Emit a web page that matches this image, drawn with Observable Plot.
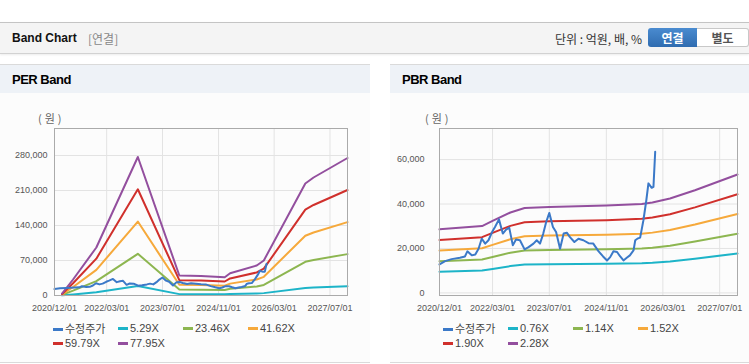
<!DOCTYPE html>
<html><head><meta charset="utf-8">
<script src="https://cdn.jsdelivr.net/npm/d3@7"></script>
<script src="https://cdn.jsdelivr.net/npm/@observablehq/plot@0.6"></script>
<style>
body{margin:0;width:749px;height:364px;position:relative;background:#fff;font-family:"Liberation Sans",Arial,"Noto Sans CJK KR",sans-serif;overflow:hidden}
#hdr{position:absolute;left:0;top:22px;width:749px;height:30px;background:#f4f4f4;border-top:1px solid #c4c4c4;border-bottom:1px solid #d2d2d2;box-shadow:0 1px 2px rgba(0,0,0,.08)}
#hdr .t{position:absolute;left:12px;top:8px;font-size:12px;font-weight:bold;color:#111}
#hdr .s{position:absolute;left:88px;top:8px;font-size:12px;color:#888;font-family:"Noto Sans CJK KR",sans-serif;line-height:15px}
#hdr .u{position:absolute;right:107px;top:7px;font-size:12px;color:#333;font-family:"Noto Sans CJK KR",sans-serif;line-height:17px}
#hdr .b1{position:absolute;left:648px;top:5px;width:49px;height:19px;border-radius:3px 0 0 3px;background:linear-gradient(#4a8bd0,#2f6cb0);color:#fff;font-weight:bold;font-size:12px;text-align:center;line-height:19px;font-family:"Noto Sans CJK KR",sans-serif}
#hdr .b2{position:absolute;left:697px;top:5px;width:51px;height:17px;border:1px solid #c8c8c8;border-left:none;border-radius:0 3px 3px 0;background:#fff;color:#555;font-weight:bold;font-size:12px;text-align:center;line-height:17px;font-family:"Noto Sans CJK KR",sans-serif}
.panel{position:absolute;top:64px;height:297px;background:#fcfcfc;border-top:1px solid #dadada;border-bottom:1px solid #dadada}
.ptitle{height:28px;background:#eef2f7;font-weight:bold;font-size:13px;letter-spacing:-0.5px;padding-left:12px;line-height:29px;color:#000}
.chart{position:absolute;top:100px}
.unit{position:absolute;top:110px;font-size:11px;color:#666;letter-spacing:3px;font-family:"Noto Sans CJK KR",sans-serif}
.legend{position:absolute;top:321px;display:grid;grid-template-columns:repeat(4,65px);row-gap:0px;font-size:11px;color:#444}
.legend div{height:15px;line-height:15px;white-space:nowrap}
.legend .sw{display:inline-block;width:10px;height:3px;vertical-align:middle;margin-right:2px;margin-top:-2px}
.kr{font-family:"Noto Sans CJK KR",sans-serif}
</style>
</head><body>
<div id="hdr"><span class="t">Band Chart</span><span class="s">[연결]</span><span class="u">단위 : 억원, 배, %</span><span class="b1">연결</span><span class="b2">별도</span></div>
<div class="panel" style="left:0;width:370px"><div class="ptitle">PER Band</div></div>
<div class="panel" style="left:390px;width:359px"><div class="ptitle">PBR Band</div></div>
<div class="unit" style="left:38px">(원)</div>
<div class="unit" style="left:425px">(원)</div>
<div id="perChart" class="chart" style="left:0"></div>
<div id="pbrChart" class="chart" style="left:390px"></div>
<div id="perLegend" class="legend" style="left:53px"></div>
<div id="pbrLegend" class="legend" style="left:443px"></div>
<script>
// ---- tick labels / axes ----
const xTickDates = ["2020-12-01","2022-03-01","2023-07-01","2024-11-01","2026-03-01","2027-07-01"];
const xDomain = ["2020-12-01","2027-12-01"];
const perYTicks = [0,70000,140000,210000,280000];
const pbrYTicks = [0,20000,40000,60000];

// ---- adjusted price (수정주가) ----
const priceDates = ["2020-12-01","2021-01-18","2021-03-15","2021-05-25","2021-07-07","2021-07-28","2021-09-04","2021-10-04","2021-11-01","2021-11-28","2021-12-28","2022-01-25","2022-02-25","2022-03-22","2022-04-25","2022-05-28","2022-06-25","2022-07-22","2022-08-22","2022-09-18","2022-10-22","2022-12-01","2023-01-04","2023-02-15","2023-03-15","2023-04-12","2023-05-10","2023-06-04","2023-07-01","2023-08-01","2023-08-28","2023-10-01","2023-11-01","2023-11-28","2023-12-25","2024-02-01","2024-03-07","2024-04-18","2024-06-01","2024-07-12","2024-08-25","2024-10-04","2024-11-07","2024-12-04","2025-01-01","2025-02-01","2025-02-28","2025-03-28","2025-04-25","2025-05-22","2025-06-22","2025-07-07","2025-07-25","2025-08-18","2025-09-15","2025-10-10","2025-10-28","2025-11-25","2025-12-10","2025-12-25"];
const priceValues = [12800,14300,15200,15850,16400,18700,16900,17300,19900,24400,22200,23700,27400,29700,33100,26700,28500,29400,21400,24000,23700,19600,20600,22200,23700,22200,26700,31900,36000,29700,27400,19900,26700,27100,25100,22900,24400,23700,22400,22200,18800,16400,14600,16100,18700,18400,16400,14600,15800,16900,19100,23700,24400,24900,32700,41700,49300,47300,47700,63500];

// ---- PER bands ----
const perNames = ["5.29X","23.46X","41.62X","59.79X","77.95X"];
const perDates = ["2021-02-05","2021-05-12","2021-12-01","2022-11-28","2023-11-25","2024-06-01","2024-12-25","2025-02-10","2025-09-30","2025-12-01","2026-11-28","2027-02-08","2027-12-01"];
const per529  = [271,2172,6515,18798,2715,2647,2477,3020,4072,4750,15202,16016,18663];
const per2346 = [1204,9631,28892,83366,12038,11737,10985,13393,18058,21067,67415,71027,82764];
const per4162 = [2136,17086,51257,147900,21357,20823,19488,23760,32036,37375,119600,126008,146832];
const per5979 = [3068,24545,73635,212468,30681,29914,27997,34133,46022,53692,171815,181019,210933];
const per7795 = [4000,32000,96000,277000,40000,39000,36500,44500,60000,70000,224000,236000,275000];

// ---- PBR bands ----
const pbrNames = ["0.76X","1.14X","1.52X","1.90X","2.28X"];
const pbrDates = ["2020-12-01","2021-12-01","2022-03-01","2022-08-01","2022-12-01","2023-07-01","2024-11-01","2025-09-01","2025-12-01","2026-05-01","2026-12-01","2027-12-01"];
const pbr076 = [9533,10033,10800,12067,12733,12900,13100,13333,13567,14167,15400,17767];
const pbr114 = [14300,15050,16200,18100,19100,19350,19650,20000,20350,21250,23100,26650];
const pbr152 = [19067,20067,21600,24133,25467,25800,26200,26667,27133,28333,30800,35533];
const pbr190 = [23833,25083,27000,30167,31833,32250,32750,33333,33917,35417,38500,44417];
const pbr228 = [28600,30100,32400,36200,38200,38700,39300,40000,40700,42500,46200,53300];

const priceName = "수정주가";
const bandColors = ["#1db4c8","#8db650","#f6a93b","#d0302c","#934f9e"];
const priceColor = "#3b79c8";

const parse = s => new Date(s + "T00:00:00Z");
const price = priceDates.map((d,i)=>({date:parse(d), value:priceValues[i]}));
function bands(names, dates, series){
  const out=[];
  names.forEach((n,k)=>dates.forEach((d,i)=>out.push({name:n, date:parse(d), value:series[k][i]})));
  return out;
}
const perBands = bands(perNames, perDates, [per529,per2346,per4162,per5979,per7795]);
const pbrBands = bands(pbrNames, pbrDates, [pbr076,pbr114,pbr152,pbr190,pbr228]);

function chart(el, width, ml, mr, yDomain, yTicks, ypad, bandData, names){
  const xt = xTickDates.map(parse);
  const p = Plot.plot({
    width, height:215, marginLeft:ml, marginRight:mr, marginTop:28, marginBottom:20,
    style:{fontSize:"9px", fontFamily:"'Liberation Sans',Arial,sans-serif", color:"#555", background:"transparent", overflow:"visible"},
    x:{type:"utc", domain:xDomain.map(parse)},
    y:{domain:yDomain},
    color:{domain:names, range:bandColors},
    marks:[
      Plot.gridX(xt, {stroke:"#e3e3e3", strokeOpacity:1}),
      Plot.gridY(yTicks, {stroke:"#e3e3e3", strokeOpacity:1}),
      Plot.axisX(xt, {tickFormat:d3.utcFormat("%Y/%m/%d"), tickSize:0, tickPadding:9, fill:"#555"}),
      Plot.axisY(yTicks, {tickFormat:d3.format(","), tickSize:0, tickPadding:ypad, fill:"#555", label:null}),
      Plot.line(bandData, {x:"date", y:"value", stroke:"name", z:"name", strokeWidth:2}),
      Plot.line(price, {x:"date", y:"value", stroke:priceColor, strokeWidth:2}),
      Plot.frame({stroke:"#aaa"})
    ]
  });
  document.getElementById(el).appendChild(p);
}
chart("perChart", 370, 54, 23, [0,334000], perYTicks, 7, perBands, perNames);
chart("pbrChart", 359, 49, 12, [-1170,74000], pbrYTicks, 15, pbrBands, pbrNames);

function legend(el, names){
  const items=[{n:priceName,c:priceColor,kr:true}].concat(names.map((n,i)=>({n,c:bandColors[i]})));
  const box=document.getElementById(el);
  items.forEach(it=>{
    const d=document.createElement("div");
    d.innerHTML=`<span class="sw" style="background:${it.c}"></span><span class="${it.kr?'kr':''}">${it.n}</span>`;
    box.appendChild(d);
  });
}
legend("perLegend", perNames);
legend("pbrLegend", pbrNames);
</script>
</body></html>
